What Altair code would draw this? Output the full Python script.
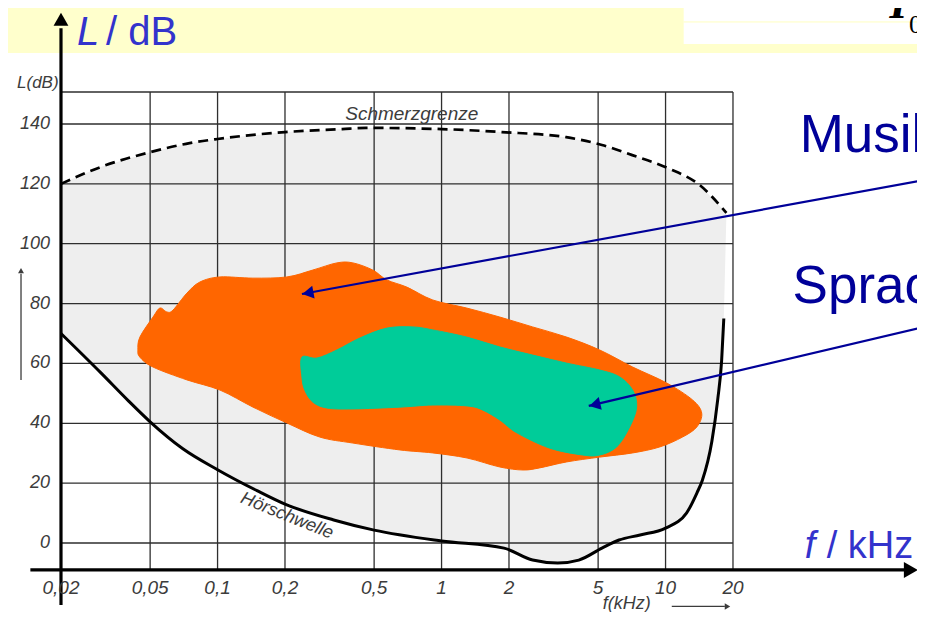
import altair as alt
import pandas as pd

# ---------------- data ----------------
X_TICKS = [0.02, 0.05, 0.1, 0.2, 0.5, 1, 2, 5, 10, 20]
X_LABELS = ["0,02", "0,05", "0,1", "0,2", "0,5", "1", "2", "5", "10", "20"]
Y_TICKS = [0, 20, 40, 60, 80, 100, 120, 140]
Y_LABELS = ["0", "20", "40", "60", "80", "100", "120", "140"]

# Hörschwelle (threshold of hearing)
THRESH_F = [0.02, 0.03, 0.04, 0.05, 0.07, 0.1, 0.15, 0.2, 0.33, 0.5, 1.0, 1.9, 2.55,
            3.3, 4.1, 5.2, 6.2, 7.7, 10.0, 12.4, 13.8, 14.6, 16.1, 17.1, 17.8, 18.2]
THRESH_DB = [70, 57, 47.5, 40.5, 31.5, 24.5, 17.5, 13, 7.7, 4.3, 0.7, -1.7, -5.7,
             -6.7, -5.7, -1.7, 1.0, 2.7, 5.0, 10.0, 16.7, 21, 34, 48, 61, 75]

# Schmerzgrenze (threshold of pain)
PAIN_F = [0.02, 0.03, 0.05, 0.075, 0.1, 0.2, 0.36, 0.46, 1.0, 1.86, 3.6, 5.2,
          7.1, 10.2, 14.2, 18.7]
PAIN_DB = [120, 125.6, 130.6, 133.6, 135, 137.3, 138.3, 138.7, 138.3, 137.3, 135.6,
           133, 129.6, 125.3, 119.6, 110.3]

# Musik region outline
ORANGE_F = [0.0441, 0.0450, 0.0515, 0.0553, 0.0594, 0.0632, 0.0730, 0.0834, 0.1025,
            0.1438, 0.204, 0.266, 0.341, 0.402, 0.493, 0.570, 0.700, 0.914, 1.296,
            1.82, 2.55, 3.62, 5.08, 7.13, 10.1, 13.2, 14.5, 13.8, 11.9, 9.42, 7.13,
            5.08, 3.62, 2.74, 2.31, 1.82, 1.30, 0.914, 0.651, 0.402, 0.286, 0.204,
            0.144, 0.1025, 0.0730, 0.0515, 0.0450]
ORANGE_DB = [64.5, 68.8, 75.5, 78.5, 77.2, 77.8, 83.5, 87.2, 88.9, 88.5, 88.9, 91.2,
             93.6, 93.6, 91.2, 87.9, 85.5, 81.2, 78.5, 75.5, 72.2, 68.8, 64.5, 58.8,
             53.5, 47.8, 43.4, 38.8, 35.4, 32.1, 30.1, 28.7, 27.1, 25.1, 24.4, 25.4,
             28.4, 30.1, 31.1, 33.4, 35.4, 40.1, 45.4, 51.1, 54.5, 58.8, 62.1]

# Sprache region outline
GREEN_F = [0.238, 0.278, 0.341, 0.432, 0.570, 0.744, 0.914, 1.296, 1.82, 2.55, 3.62,
           5.08, 6.24, 7.13, 7.43, 6.92, 6.05, 5.08, 4.27, 3.04, 2.17, 1.82, 1.53,
           1.30, 0.914, 0.651, 0.402, 0.308, 0.266, 0.245, 0.238]
GREEN_DB = [62.1, 61.8, 64.5, 68.5, 71.8, 72.2, 71.2, 68.8, 65.5, 62.8, 60.1, 57.8,
            55.5, 51.1, 45.4, 38.8, 32.1, 29.4, 29.4, 31.7, 36.8, 41.1, 44.4, 45.8,
            46.1, 45.4, 44.8, 45.1, 47.1, 51.1, 55.5]

# pointer arrows: tail (f, dB) -> tip (f, dB)
ARROW_TAIL_F = [143.0, 143.0]
ARROW_TAIL_DB = [121.3, 72.2]
ARROW_TIP_F = [0.238, 4.54]
ARROW_TIP_DB = [83.2, 45.8]
ARROW_HEAD_F = [0.253, 4.83]
ARROW_HEAD_DB = [83.5, 46.2]
ARROW_ANGLE = [349.6, 346.8]

# frame of the scanned diagram
F_LO, F_HI = 0.02, 20
DB_LO, DB_HI = -9.0, 150.7

# ---------------- layout ----------------
W, H = 909, 604
X_DOMAIN = [0.0116, 132.6]
Y_DOMAIN = [-23.05, 178.76]

xs = alt.Scale(type="log", domain=X_DOMAIN, nice=False)
ys = alt.Scale(domain=Y_DOMAIN, nice=False, zero=False)


def X(field="f"):
    return alt.X(f"{field}:Q", scale=xs, axis=None)


def Y(field="db"):
    return alt.Y(f"{field}:Q", scale=ys, axis=None)


def df(**cols):
    return pd.DataFrame(cols)


SANS = "Liberation Sans"
SERIF = "Liberation Serif"
SCAN = "#3c3c3c"
BLUE = "#3333CC"
NAVY = "#000099"

layers = []

# yellow title band + white box top right
layers.append(alt.Chart(df(f=[X_DOMAIN[0]], f2=[X_DOMAIN[1]], db=[163.7], d2=[Y_DOMAIN[1]]))
              .mark_rect(color="#FFFFCC").encode(x=X(), x2="f2:Q", y=Y(), y2="d2:Q"))
layers.append(alt.Chart(df(f=[12.05], f2=[X_DOMAIN[1]], db=[166.7], d2=[Y_DOMAIN[1]]))
              .mark_rect(color="white").encode(x=X(), x2="f2:Q", y=Y(), y2="d2:Q"))
layers.append(alt.Chart(df(f=[12.05], f2=[X_DOMAIN[1]], db=[174.1]))
              .mark_rule(color="#FFFFC0", strokeWidth=1).encode(x=X(), x2="f2:Q", y=Y()))

# stippled hearing area
poly_f = PAIN_F + THRESH_F[::-1]
poly_db = PAIN_DB + THRESH_DB[::-1]
layers.append(alt.Chart(df(f=poly_f, db=poly_db, i=list(range(len(poly_f)))))
              .mark_line(fill="#eeeeee", stroke="#eeeeee", strokeOpacity=0,
                         interpolate="linear-closed")
              .encode(x=X(), y=Y(), order="i:Q"))

# grid
layers.append(alt.Chart(df(f=X_TICKS[1:], db=[DB_LO] * 9, d2=[DB_HI] * 9))
              .mark_rule(color="#2e2e2e", strokeWidth=1.3).encode(x=X(), y=Y(), y2="d2:Q"))
hy = Y_TICKS + [DB_HI]
layers.append(alt.Chart(df(db=hy, f=[F_LO] * len(hy), f2=[F_HI] * len(hy)))
              .mark_rule(color="#2e2e2e", strokeWidth=1.3).encode(x=X(), x2="f2:Q", y=Y()))

# curves
layers.append(alt.Chart(df(f=THRESH_F, db=THRESH_DB))
              .mark_line(color="black", strokeWidth=3, interpolate="monotone")
              .encode(x=X(), y=Y()))
layers.append(alt.Chart(df(f=PAIN_F, db=PAIN_DB))
              .mark_line(color="black", strokeWidth=2.7, strokeDash=[10, 6], interpolate="monotone")
              .encode(x=X(), y=Y()))

# thick axes with arrows
layers.append(alt.Chart(df(f=[F_LO], db=[-20.7], d2=[172.0]))
              .mark_rule(color="black", strokeWidth=3.2).encode(x=X(), y=Y(), y2="d2:Q"))
layers.append(alt.Chart(df(f=[0.0146], f2=[122.0], db=[DB_LO]))
              .mark_rule(color="black", strokeWidth=3.2).encode(x=X(), x2="f2:Q", y=Y()))
layers.append(alt.Chart(df(f=[F_LO], db=[175.0]))
              .mark_point(shape="triangle-up", filled=True, color="black", opacity=1, size=220)
              .encode(x=X(), y=Y()))
layers.append(alt.Chart(df(f=[124.5], db=[DB_LO]))
              .mark_point(shape="triangle-right", filled=True, color="black", opacity=1, size=260)
              .encode(x=X(), y=Y()))

# small arrows of the scan
layers.append(alt.Chart(df(f=[0.01326], db=[54.5], d2=[90.0]))
              .mark_rule(color=SCAN, strokeWidth=1.3).encode(x=X(), y=Y(), y2="d2:Q"))
layers.append(alt.Chart(df(f=[0.01326], db=[91.0]))
              .mark_point(shape="triangle-up", filled=True, color=SCAN, opacity=1, size=35)
              .encode(x=X(), y=Y()))
layers.append(alt.Chart(df(f=[10.66], f2=[18.4], db=[-21.2]))
              .mark_rule(color=SCAN, strokeWidth=1.3).encode(x=X(), x2="f2:Q", y=Y()))
layers.append(alt.Chart(df(f=[18.9], db=[-21.2]))
              .mark_point(shape="triangle-right", filled=True, color=SCAN, opacity=1, size=40)
              .encode(x=X(), y=Y()))

# coloured regions
layers.append(alt.Chart(df(f=ORANGE_F, db=ORANGE_DB, i=list(range(len(ORANGE_F)))))
              .mark_line(fill="#FF6600", stroke="#FF6600", strokeWidth=1, interpolate="cardinal-closed")
              .encode(x=X(), y=Y(), order="i:Q"))
layers.append(alt.Chart(df(f=GREEN_F, db=GREEN_DB, i=list(range(len(GREEN_F)))))
              .mark_line(fill="#00CC99", stroke="#00CC99", strokeWidth=1, interpolate="cardinal-closed")
              .encode(x=X(), y=Y(), order="i:Q"))

# pointer arrows
layers.append(alt.Chart(df(f=ARROW_TAIL_F, f2=ARROW_TIP_F, db=ARROW_TAIL_DB, d2=ARROW_TIP_DB))
              .mark_rule(color=NAVY, strokeWidth=2.2)
              .encode(x=X(), x2="f2:Q", y=Y(), y2="d2:Q"))
layers.append(alt.Chart(df(f=ARROW_HEAD_F, db=ARROW_HEAD_DB, a=ARROW_ANGLE))
              .mark_point(shape="triangle-left", filled=True, color=NAVY, opacity=1, size=170)
              .encode(x=X(), y=Y(), angle=alt.Angle("a:Q", scale=None)))


def text(data, **props):
    base = dict(font=SANS)
    base.update(props)
    return alt.Chart(data).mark_text(**base).encode(x=X(), y=Y(), text="t:N")


# scan tick labels
layers.append(text(df(t=Y_LABELS, f=[0.01786] * 8, db=Y_TICKS),
                   align="right", baseline="middle", fontSize=18, fontStyle="italic", color=SCAN))
layers.append(text(df(t=X_LABELS, f=X_TICKS, db=[-17.0] * 10),
                   align="center", baseline="alphabetic", fontSize=19, fontStyle="italic", color=SCAN))
layers.append(text(df(t=["L(dB)"], f=[0.01273], db=[152.0]),
                   align="left", baseline="alphabetic", fontSize=17, fontStyle="italic", color=SCAN))
layers.append(text(df(t=["f(kHz)"], f=[5.24], db=[-21.9]),
                   align="left", baseline="alphabetic", fontSize=18, fontStyle="italic", color=SCAN))
layers.append(text(df(t=["Schmerzgrenze"], f=[0.736], db=[141.3]),
                   align="center", baseline="alphabetic", fontSize=19, fontStyle="italic", color=SCAN))
layers.append(text(df(t=["Hörschwelle"], f=[0.204], db=[9.0]),
                   align="center", baseline="middle", fontSize=18, fontStyle="italic", color=SCAN,
                   angle=22))

# slide labels
layers.append(text(df(t=["L"], f=[0.02356], db=[166.4]),
                   align="left", baseline="alphabetic", fontSize=40, fontStyle="italic", color=BLUE))
layers.append(text(df(t=["/ dB"], f=[0.0318], db=[166.4]),
                   align="left", baseline="alphabetic", fontSize=40, color=BLUE))
layers.append(text(df(t=["f"], f=[41.8], db=[-5.0]),
                   align="left", baseline="alphabetic", fontSize=38, fontStyle="italic", color=BLUE))
layers.append(text(df(t=["/ kHz"], f=[52.4], db=[-5.0]),
                   align="left", baseline="alphabetic", fontSize=38, color=BLUE))
layers.append(text(df(t=["Musik", "Sprache"], f=[39.7, 36.9], db=[130.6, 80.2]),
                   align="left", baseline="alphabetic", fontSize=53, color=NAVY))
layers.append(text(df(t=["I"], f=[100.0], db=[175.4]),
                   align="left", baseline="alphabetic", fontSize=46, fontStyle="italic",
                   fontWeight="bold", font=SERIF, color="black"))
layers.append(text(df(t=["0"], f=[122.0], db=[170.4]),
                   align="left", baseline="alphabetic", fontSize=26, font=SERIF, color="black"))

chart = alt.layer(*layers).properties(
    width=W, height=H, padding=0, autosize=alt.AutoSizeParams(type="none"),
    background="white",
).configure_view(stroke=None)

chart.save("out.html", embed_options={"renderer": "svg", "actions": False})
